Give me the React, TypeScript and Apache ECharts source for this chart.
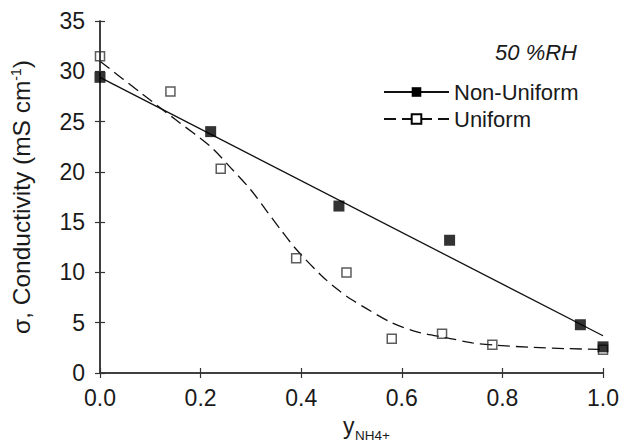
import React, { useEffect, useRef } from "react";
import * as echarts from "echarts";

const xTicks = [0, 0.2, 0.4, 0.6, 0.8, 1.0];
const yTicks = [0, 5, 10, 15, 20, 25, 30, 35];

const nonUniformX = [0, 0.22, 0.475, 0.695, 0.955, 1.0];
const nonUniformY = [29.4, 24.0, 16.6, 13.2, 4.8, 2.6];

const uniformX = [0, 0.14, 0.24, 0.39, 0.49, 0.58, 0.68, 0.78, 1.0];
const uniformY = [31.5, 28.0, 20.3, 11.4, 10.0, 3.4, 3.9, 2.8, 2.3];

const nonUniformFitX = [0, 1.0];
const nonUniformFitY = [29.4, 3.7];

const uniformFitX = [0, 0.08, 0.15, 0.22, 0.26, 0.3, 0.33, 0.36, 0.39, 0.44, 0.47, 0.5, 0.53, 0.58, 0.63, 0.69, 0.74, 0.79, 0.86, 0.93, 1.0];
const uniformFitY = [31.0, 27.9, 25.2, 22.5, 20.4, 18.2, 16.2, 14.2, 12.3, 9.7, 8.4, 7.3, 6.4, 5.0, 4.1, 3.5, 3.0, 2.75, 2.55, 2.42, 2.35];

const FONT = "Liberation Sans, Arial, sans-serif";
const INK = "#1a1a1a";

const zip = (xs: number[], ys: number[]) => xs.map((x, i) => [x, ys[i]]);

export default function App() {
  const ref = useRef<HTMLDivElement>(null);
  useEffect(() => {
    if (!ref.current) return;
    const chart = echarts.init(ref.current, null, { renderer: "svg" });
    const axisCommon = {
      axisLine: { show: true, lineStyle: { color: "#333", width: 1.5 } },
      axisTick: { show: true, inside: false, length: 5, lineStyle: { color: "#333", width: 1.2 } },
      splitLine: { show: false },
    };
    chart.setOption({
      animation: false,
      backgroundColor: "#fff",
      grid: { left: 100, right: 18, top: 21, bottom: 73 },
      legend: {
        orient: "vertical",
        left: 383,
        top: 81,
        padding: 0,
        itemWidth: 65,
        itemHeight: 12,
        itemGap: 5,
        data: ["Non-Uniform", "Uniform"],
        textStyle: { fontFamily: FONT, fontSize: 22, color: INK },
        selectedMode: false,
      },
      xAxis: [
        {
          type: "value",
          min: 0,
          max: 1,
          interval: 0.2,
          position: "bottom",
          ...axisCommon,
          axisLabel: {
            margin: 13,
            fontFamily: FONT,
            fontSize: 23,
            color: INK,
            formatter: (v: number) => v.toFixed(1),
          },
        },
        {
          type: "value",
          min: 0,
          max: 1,
          interval: 0.2,
          position: "top",
          ...axisCommon,
          axisLabel: { show: false },
        },
      ],
      yAxis: [
        {
          type: "value",
          min: 0,
          max: 35,
          interval: 5,
          position: "left",
          ...axisCommon,
          axisLabel: { margin: 15, fontFamily: FONT, fontSize: 23, color: INK },
          name: "{a|σ, Conductivity (mS cm}{s|-1}{a|)}",
          nameLocation: "middle",
          nameRotate: 90,
          nameGap: 66,
          nameTextStyle: {
            fontFamily: FONT,
            fontSize: 24.5,
            color: INK,
            rich: {
              a: { fontFamily: FONT, fontSize: 24.5, color: INK },
              s: { fontFamily: FONT, fontSize: 14, color: INK, verticalAlign: "top", padding: [0, 0, 10, 0] },
            },
          },
        },
        {
          type: "value",
          min: 0,
          max: 35,
          interval: 5,
          position: "right",
          ...axisCommon,
          axisLabel: { show: false },
        },
      ],
      graphic: [
        {
          type: "text",
          x: 577,
          y: 52,
          style: {
            text: "50 %RH",
            fontFamily: FONT,
            fontSize: 22,
            fontStyle: "italic",
            fill: INK,
            align: "right",
            verticalAlign: "middle",
          },
        },
        {
          type: "text",
          x: 343,
          y: 426,
          style: { text: "y", fontFamily: FONT, fontSize: 23, fill: INK, align: "left", verticalAlign: "middle" },
        },
        {
          type: "text",
          x: 355,
          y: 435,
          style: { text: "NH4+", fontFamily: FONT, fontSize: 13.5, fill: INK, align: "left", verticalAlign: "middle" },
        },
      ],
      series: [
        {
          name: "Non-Uniform",
          type: "line",
          data: zip(nonUniformFitX, nonUniformFitY),
          symbol: "rect",
          showSymbol: false,
          itemStyle: { color: "#000" },
          lineStyle: { color: "#111", width: 1.3, type: "solid" },
          silent: true,
          z: 2,
        },
        {
          name: "Uniform",
          type: "line",
          data: zip(uniformFitX, uniformFitY),
          smooth: 0.3,
          symbol: "emptyRect",
          showSymbol: false,
          itemStyle: { color: "#000" },
          lineStyle: { color: "#111", width: 1.3, type: [12, 6] },
          silent: true,
          z: 2,
        },
        {
          name: "Uniform data",
          type: "scatter",
          data: zip(uniformX, uniformY),
          symbol: "rect",
          symbolSize: 9,
          itemStyle: { color: "rgba(0,0,0,0)", borderColor: "#333", borderWidth: 1.5 },
          z: 3,
        },
        {
          name: "Non-Uniform data",
          type: "scatter",
          data: zip(nonUniformX, nonUniformY),
          symbol: "rect",
          symbolSize: 11,
          itemStyle: { color: "#000" },
          z: 4,
        },
      ],
    });
    return () => chart.dispose();
  }, []);
  return (
    <div
      ref={ref}
      style={{ position: "absolute", left: 0, top: 0, width: 622, height: 446, background: "#fff" }}
    />
  );
}
